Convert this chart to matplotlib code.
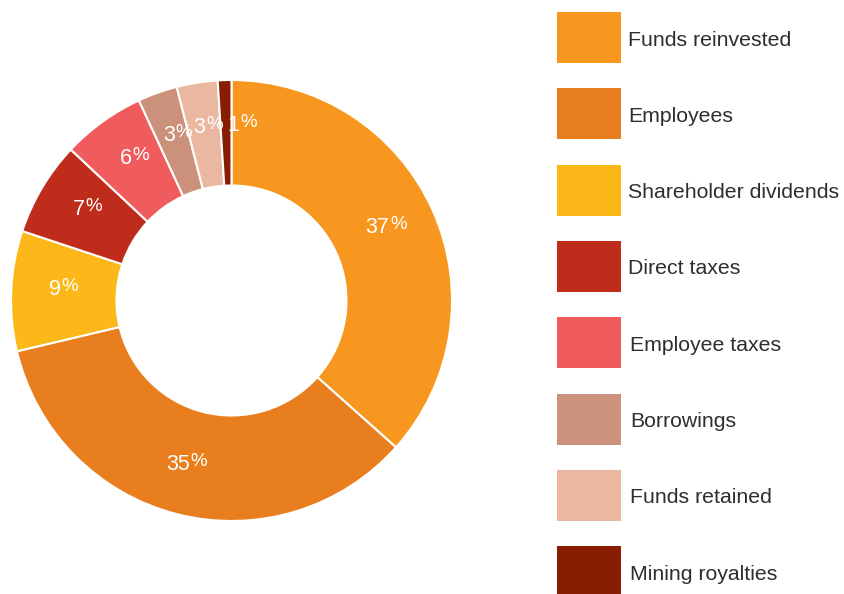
import numpy as np
import matplotlib
matplotlib.use("Agg")
import matplotlib.pyplot as plt
from matplotlib.patches import Rectangle
from matplotlib.transforms import offset_copy, Bbox

categories = ["Funds reinvested", "Employees", "Shareholder dividends", "Direct taxes",
              "Employee taxes", "Borrowings", "Funds retained", "Mining royalties"]
values = [36.6, 34.7, 8.8, 6.9, 6.1, 2.9, 3.0, 1.0]
colors = ["#F7971F", "#E97E1E", "#FBB818", "#BF2C1B", "#F05C5E", "#CC917A", "#EAB8A0", "#881D02"]

W, H = 845, 594
plt.rcParams['font.family'] = ['Liberation Sans', 'DejaVu Sans']
fig = plt.figure(figsize=(W / 100, H / 100), dpi=100)

# donut axes
cx, cy, R = 231.5, 300.5, 220.5
ax = fig.add_axes([(cx - R) / W, 1 - (cy + R) / H, 2 * R / W, 2 * R / H])
inner = 115.0 / R
wedges, _ = ax.pie(values, colors=colors, startangle=90, counterclock=False,
                   radius=1.0,
                   wedgeprops=dict(width=1 - inner, edgecolor="white", linewidth=1.5))
ax.set_xlim(-1, 1)
ax.set_ylim(-1, 1)
ax.set_aspect("equal")
ax.axis("off")

total = sum(values)
labels = []
for w, v in zip(wedges, values):
    ang = np.deg2rad((w.theta1 + w.theta2) / 2)
    r = 0.78
    x, y = r * np.cos(ang), r * np.sin(ang)
    t1 = offset_copy(ax.transData, fig=fig, x=1.0, y=3.0, units='dots')
    t2 = offset_copy(ax.transData, fig=fig, x=1.5, y=6.0, units='dots')
    a = ax.text(x, y, f"{round(v / total * 100):d}", transform=t1, ha="right", va="center",
                color="white", fontsize=15.5)
    b = ax.text(x, y, "%", transform=t2, ha="left", va="center", color="white", fontsize=13.5)
    labels.append((a, b))

# simple overlap avoidance between neighbouring labels (shift later one right)
fig.canvas.draw()
renderer = fig.canvas.get_renderer()
prev = None
for a, b in labels:
    bb = Bbox.union([a.get_window_extent(renderer), b.get_window_extent(renderer)])
    if prev is not None and bb.overlaps(prev):
        shift = (prev.x1 - bb.x0 + 5) / R
        for t in (a, b):
            px, py = t.get_position()
            t.set_position((px + shift, py))
        bb = Bbox.union([a.get_window_extent(renderer), b.get_window_extent(renderer)])
    prev = bb

# legend
lax = fig.add_axes([0, 0, 1, 1])
lax.set_xlim(0, W)
lax.set_ylim(H, 0)
lax.axis("off")
top0, step, sq_w, sq_h, sq_x = 12, 76.3, 64, 51, 557
for i, (c, name) in enumerate(zip(colors, categories)):
    y0 = top0 + i * step
    lax.add_patch(Rectangle((sq_x, y0), sq_w, sq_h, facecolor=c, edgecolor="none"))
    lax.text(628 if i < 4 else 630, y0 + sq_h / 2 + 2.5, name, ha="left", va="center",
             fontsize=15.3, color="#2e2e2e")

fig.savefig("out.png", dpi=100)
